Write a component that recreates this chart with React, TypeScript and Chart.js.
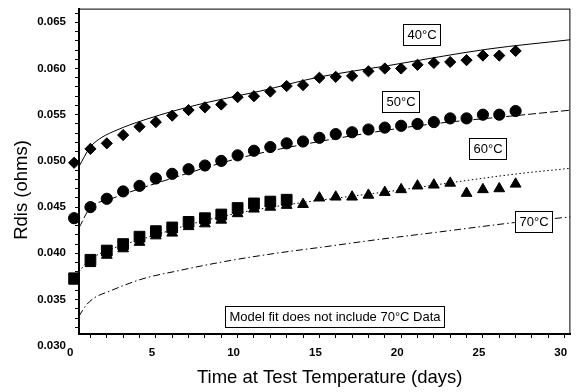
import React, { useEffect, useRef } from 'react';
import { Chart, registerables } from 'chart.js';

Chart.register(...registerables);

const FONT = '"Liberation Sans", Arial, Helvetica, sans-serif';

// ---- measured data (days at test temperature, Rdis in ohms) ----
const days40 = [0, 1, 2, 3, 4, 5, 6, 7, 8, 9, 10, 11, 12, 13, 14, 15, 16, 17, 18, 19, 20, 21, 22, 23, 24, 25, 26, 27];
const rdis40 = [0.0498, 0.0513, 0.0519, 0.0528, 0.0537, 0.0542, 0.0549, 0.0555, 0.0558, 0.0561, 0.0569, 0.0570, 0.0575, 0.0581, 0.0582, 0.0590, 0.0591, 0.0592, 0.0597, 0.0600, 0.0600, 0.0604, 0.0606, 0.0607, 0.0609, 0.0614, 0.0614, 0.0619];

const days50 = [0, 1, 2, 3, 4, 5, 6, 7, 8, 9, 10, 11, 12, 13, 14, 15, 16, 17, 18, 19, 20, 21, 22, 23, 24, 25, 26, 27];
const rdis50 = [0.0438, 0.0450, 0.0459, 0.0467, 0.0473, 0.0481, 0.0486, 0.0491, 0.0495, 0.0500, 0.0506, 0.0511, 0.0515, 0.0519, 0.0521, 0.0525, 0.0529, 0.0531, 0.0534, 0.0536, 0.0538, 0.0540, 0.0542, 0.0546, 0.0546, 0.0550, 0.0550, 0.0554];

const daysSquares = [0, 1, 2, 3, 4, 5, 6, 7, 8, 9, 10, 11, 12, 13];
const rdisSquares = [0.0373, 0.0393, 0.0403, 0.0410, 0.0418, 0.0424, 0.0428, 0.0434, 0.0438, 0.0442, 0.0449, 0.0454, 0.0456, 0.0458];

const daysTriangles = [0, 1, 2, 3, 4, 5, 6, 7, 8, 9, 10, 11, 12, 13, 14, 15, 16, 17, 18, 19, 20, 21, 22, 23, 24, 25, 26, 27];
const rdisTriangles = [0.0370, 0.0389, 0.0398, 0.0405, 0.0412, 0.0419, 0.0422, 0.0429, 0.0432, 0.0436, 0.0443, 0.0448, 0.0450, 0.0452, 0.0453, 0.0460, 0.0461, 0.0461, 0.0463, 0.0466, 0.0469, 0.0473, 0.0474, 0.0476, 0.0465, 0.0469, 0.0470, 0.0475];

// ---- model fit curves ----
const fitDays40 = [0.3, 0.97, 1.47, 2.39, 5.23, 8.27, 11.32, 14.97, 19.23, 25.31, 30.35];
const fit40 = [0.0494, 0.05145, 0.05228, 0.05317, 0.05496, 0.05638, 0.05753, 0.05907, 0.06032, 0.06210, 0.06311];

const fitDays50 = [0.3, 0.97, 2.19, 6.04, 10.1, 14.97, 21.06, 27.34, 30.35];
const fit50 = [0.04276, 0.0449, 0.04584, 0.04815, 0.0503, 0.05209, 0.05381, 0.05496, 0.05549];

const fitDays60 = [0.3, 0.97, 2.19, 4.62, 7.66, 10.7, 13.75, 16.79, 19.84, 23.67, 27.14, 30.35];
const fit60 = [0.03804, 0.03932, 0.0404, 0.04179, 0.0434, 0.04458, 0.04544, 0.04614, 0.04683, 0.0478, 0.04861, 0.0492];

const fitDays70 = [0.3, 0.7, 1.17, 2.19, 4.21, 6.25, 9.29, 12.33, 15.38, 18.01, 22.27, 26.94, 30.35];
const fit70 = [0.0332, 0.0343, 0.0351, 0.03592, 0.03725, 0.03807, 0.03914, 0.04, 0.04072, 0.04136, 0.0423, 0.04333, 0.04394];

// ---- axes ----
const xTickValues = Array.from({ length: 31 }, (_, i) => i);
const xLabelEvery = 5;
const yTickValues = [0.030, ...Array.from({ length: 35 }, (_, i) => (32 + i) / 1000)];
const yLabelEvery = 0.005;

const X_TITLE = 'Time at Test Temperature (days)';
const Y_TITLE = 'Rdis (ohms)';

// ---- text boxes (anchored in data coordinates) ----
const noteTexts = ['40°C', '50°C', '60°C', '70°C', 'Model fit does not include 70°C Data'];
const noteDays = [21.23, 19.97, 25.25, 28.1, 15.9];
const noteValues = [0.06371, 0.05644, 0.05132, 0.0434, 0.03315];

const toXY = (xs: number[], ys: number[]) => xs.map((x, i) => ({ x, y: ys[i] }));

const overlayPlugin = {
  id: 'overlay',
  afterDraw(chart: any) {
    const { ctx, chartArea: a, scales } = chart;
    ctx.save();
    ctx.strokeStyle = '#000';
    ctx.lineWidth = 1;
    ctx.strokeRect(a.left + 0.5, a.top + 0.5, a.right - a.left - 1, a.bottom - a.top - 1);

    ctx.font = `13px ${FONT}`;
    ctx.textAlign = 'center';
    ctx.textBaseline = 'middle';
    noteTexts.forEach((t, i) => {
      const x = scales.x.getPixelForValue(noteDays[i]);
      const y = scales.y.getPixelForValue(noteValues[i]);
      const w = Math.round(ctx.measureText(t).width + 8);
      const h = 21;
      const l = Math.round(x - w / 2);
      const tp = Math.round(y - h / 2);
      ctx.fillStyle = '#fff';
      ctx.fillRect(l, tp, w, h);
      ctx.strokeRect(l + 0.5, tp + 0.5, w, h);
      ctx.fillStyle = '#000';
      ctx.fillText(t, l + w / 2 + 0.5, tp + h / 2 + 1);
    });

    ctx.font = `18.5px ${FONT}`;
    ctx.fillStyle = '#000';
    ctx.fillText(X_TITLE, (a.left + a.right) / 2 + 5, 378);
    ctx.translate(22, 190);
    ctx.rotate(-Math.PI / 2);
    ctx.fillText(Y_TITLE, 0, 0);
    ctx.restore();
  },
};

export default function App() {
  const ref = useRef<HTMLCanvasElement>(null);

  useEffect(() => {
    document.body.style.margin = '0';
    const canvas = ref.current;
    if (!canvas) return;

    const marker = (label: string, xs: number[], ys: number[], style: string, radius: number) => ({
      label,
      data: toXY(xs, ys),
      showLine: false,
      pointStyle: style,
      pointRadius: radius,
      pointHoverRadius: radius,
      pointBackgroundColor: '#000',
      pointBorderColor: '#000',
      pointBorderWidth: 1,
      backgroundColor: '#000',
      borderColor: '#000',
      clip: false,
    });

    const fit = (label: string, xs: number[], ys: number[], dash: number[]) => ({
      label,
      data: toXY(xs, ys),
      showLine: true,
      pointRadius: 0,
      pointHoverRadius: 0,
      borderColor: '#000',
      borderWidth: 1,
      borderDash: dash,
      fill: false,
      cubicInterpolationMode: 'monotone',
    });

    const chart = new Chart(canvas, {
      type: 'scatter',
      data: {
        datasets: [
          marker('40°C', days40, rdis40, 'rectRot', 5.6),
          marker('50°C', days50, rdis50, 'circle', 5.6),
          marker('60°C', daysSquares, rdisSquares, 'rect', 7.6),
          marker('70°C', daysTriangles, rdisTriangles, 'triangle', 6.2),
          fit('40°C model', fitDays40, fit40, []),
          fit('50°C model', fitDays50, fit50, [8, 3]),
          fit('60°C model', fitDays60, fit60, [1.5, 2.5]),
          fit('70°C model', fitDays70, fit70, [7, 3, 1.5, 3]),
        ] as any,
      },
      options: {
        responsive: false,
        animation: false,
        devicePixelRatio: 1,
        events: [],
        layout: { padding: { top: 6, right: 6.5, left: 0, bottom: 0 } },
        plugins: {
          legend: { display: false },
          tooltip: { enabled: false },
          title: { display: false },
        },
        scales: {
          x: {
            type: 'linear',
            min: 0.3,
            max: 30.35,
            afterBuildTicks: (s: any) => {
              s.ticks = xTickValues.map((v) => ({ value: v }));
            },
            afterFit: (s: any) => {
              s.height = 58;
              s.paddingLeft = 0;
              s.paddingRight = 0;
            },
            ticks: {
              autoSkip: false,
              maxRotation: 0,
              minRotation: 0,
              labelOffset: -4,
              padding: 8,
              color: '#000',
              font: { family: FONT, size: 11.5, weight: 'bold' },
              callback: (v: any) => (Number(v) % xLabelEvery === 0 ? String(v) : ''),
            },
            grid: {
              drawOnChartArea: false,
              drawTicks: true,
              tickLength: 4,
              tickWidth: 1,
              tickColor: (c: any) => (c.tick && c.tick.value < 0.3 ? 'rgba(0,0,0,0)' : '#000'),
            },
            border: { display: true, color: '#000', width: 2 },
            title: { display: false, text: X_TITLE },
          },
          y: {
            type: 'linear',
            min: 0.03127,
            max: 0.06648,
            afterBuildTicks: (s: any) => {
              s.ticks = yTickValues.map((v) => ({ value: v }));
            },
            afterFit: (s: any) => {
              s.width = 79;
              s.paddingTop = 0;
              s.paddingBottom = 0;
            },
            ticks: {
              autoSkip: false,
              padding: 9,
              color: '#000',
              font: { family: FONT, size: 11.5, weight: 'bold' },
              callback: (v: any) => {
                const n = Number(v);
                const k = Math.round(n / yLabelEvery);
                return Math.abs(n - k * yLabelEvery) < 1e-7 ? n.toFixed(3) : '';
              },
            },
            grid: {
              drawOnChartArea: false,
              drawTicks: true,
              tickLength: 4,
              tickWidth: 1,
              tickColor: (c: any) => (c.tick && c.tick.value < 0.0313 ? 'rgba(0,0,0,0)' : '#000'),
            },
            border: { display: true, color: '#000', width: 2 },
            title: { display: false, text: Y_TITLE },
          },
        },
      } as any,
      plugins: [overlayPlugin],
    });

    return () => chart.destroy();
  }, []);

  return (
    <canvas
      ref={ref}
      width={579}
      height={392}
      style={{ display: 'block', width: '579px', height: '392px' }}
    />
  );
}
